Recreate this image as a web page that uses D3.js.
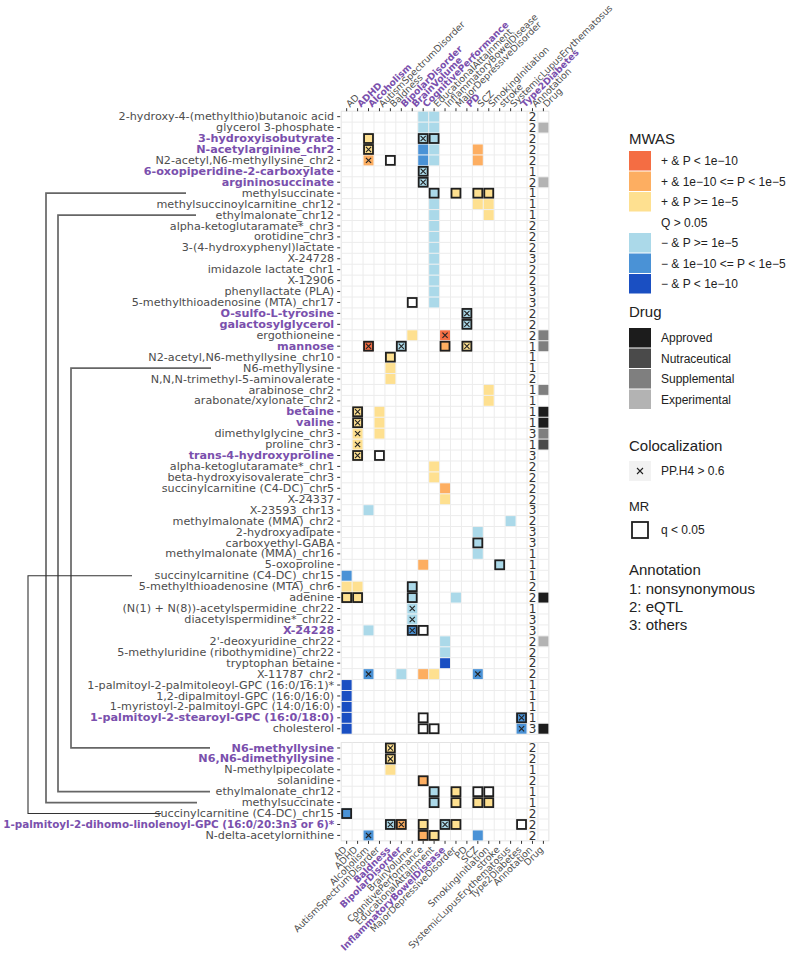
<!DOCTYPE html>
<html>
<head>
<meta charset="utf-8">
<script src="https://cdn.jsdelivr.net/npm/d3@7"></script>
<style>
  body { margin: 0; background: #fff; }
</style>
</head>
<body>
<div id="chart"></div>
<script>
// ---- data ----
const traits = ["AD", "ADHD", "Alcoholism", "AutismSpectrumDisorder", "Baldness", "BipolarDisorder",
  "BrainVolume", "CognitivePerformance", "EducationalAttainment", "InflammatoryBowelDisease",
  "MajorDepressiveDisorder", "PD", "SCZ", "SmokingInitiation", "stroke",
  "SystemicLupusErythematosus", "Type2Diabetes"];
const columns = traits.concat(["Annotation", "Drug"]);
const topBoldTraits = ["ADHD", "Alcoholism", "BipolarDisorder", "BrainVolume", "CognitivePerformance", "PD", "Type2Diabetes"];
const bottomBoldTraits = ["Baldness", "BipolarDisorder", "InflammatoryBowelDisease"];

const metabolitesTop = [
  "2-hydroxy-4-(methylthio)butanoic acid", "glycerol 3-phosphate", "3-hydroxyisobutyrate",
  "N-acetylarginine_chr2", "N2-acetyl,N6-methyllysine_chr2", "6-oxopiperidine-2-carboxylate",
  "argininosuccinate", "methylsuccinate", "methylsuccinoylcarnitine_chr12", "ethylmalonate_chr12",
  "alpha-ketoglutaramate*_chr3", "orotidine_chr3", "3-(4-hydroxyphenyl)lactate", "X-24728",
  "imidazole lactate_chr1", "X-12906", "phenyllactate (PLA)", "5-methylthioadenosine (MTA)_chr17",
  "O-sulfo-L-tyrosine", "galactosylglycerol", "ergothioneine", "mannose",
  "N2-acetyl,N6-methyllysine_chr10", "N6-methyllysine", "N,N,N-trimethyl-5-aminovalerate",
  "arabinose_chr2", "arabonate/xylonate_chr2", "betaine", "valine", "dimethylglycine_chr3",
  "proline_chr3", "trans-4-hydroxyproline", "alpha-ketoglutaramate*_chr1",
  "beta-hydroxyisovalerate_chr3", "succinylcarnitine (C4-DC)_chr5", "X-24337", "X-23593_chr13",
  "methylmalonate (MMA)_chr2", "2-hydroxyadipate", "carboxyethyl-GABA", "methylmalonate (MMA)_chr16",
  "5-oxoproline", "succinylcarnitine (C4-DC)_chr15", "5-methylthioadenosine (MTA)_chr6", "adenine",
  "(N(1) + N(8))-acetylspermidine_chr22", "diacetylspermidine*_chr22", "X-24228",
  "2'-deoxyuridine_chr22", "5-methyluridine (ribothymidine)_chr22", "tryptophan betaine",
  "X-11787_chr2", "1-palmitoyl-2-palmitoleoyl-GPC (16:0/16:1)*", "1,2-dipalmitoyl-GPC (16:0/16:0)",
  "1-myristoyl-2-palmitoyl-GPC (14:0/16:0)", "1-palmitoyl-2-stearoyl-GPC (16:0/18:0)", "cholesterol"];
const boldTop = ["3-hydroxyisobutyrate", "N-acetylarginine_chr2", "6-oxopiperidine-2-carboxylate",
  "argininosuccinate", "O-sulfo-L-tyrosine", "galactosylglycerol", "mannose", "betaine", "valine",
  "trans-4-hydroxyproline", "X-24228", "1-palmitoyl-2-stearoyl-GPC (16:0/18:0)"];
const annotationTop = [2,2,2,2,2,1,2,1,1,1, 2,2,2,3,2,2,3,3, 2,2,2, 1,1,1,2,1,1, 1,1,3,1,3,
  2,2,2,2, 3,2,3,3,1,1,1, 2,2,1,3,3, 2,2,2,2, 1,1,1,1,3];

const metabolitesBottom = ["N6-methyllysine", "N6,N6-dimethyllysine", "N-methylpipecolate", "solanidine",
  "ethylmalonate_chr12", "methylsuccinate", "succinylcarnitine (C4-DC)_chr15",
  "1-palmitoyl-2-dihomo-linolenoyl-GPC (16:0/20:3n3 or 6)*", "N-delta-acetylornithine"];
const boldBottom = ["N6-methyllysine", "N6,N6-dimethyllysine", "1-palmitoyl-2-dihomo-linolenoyl-GPC (16:0/20:3n3 or 6)*"];
const annotationBottom = [2,2,1,2,1,1,2,2,2];

// MWAS level: 3 = + & P<1e-10, 2 = + & 1e-10<=P<1e-5, 1 = + & P>=1e-5, -1/-2/-3 the negative ones
const mwasTop = [
  ["2-hydroxy-4-(methylthio)butanoic acid", "CognitivePerformance", -1],
  ["2-hydroxy-4-(methylthio)butanoic acid", "EducationalAttainment", -1],
  ["glycerol 3-phosphate", "CognitivePerformance", -1],
  ["glycerol 3-phosphate", "EducationalAttainment", -1],
  ["3-hydroxyisobutyrate", "Alcoholism", 1],
  ["3-hydroxyisobutyrate", "CognitivePerformance", -1],
  ["3-hydroxyisobutyrate", "EducationalAttainment", -1],
  ["N-acetylarginine_chr2", "Alcoholism", 1],
  ["N-acetylarginine_chr2", "CognitivePerformance", -2],
  ["N-acetylarginine_chr2", "EducationalAttainment", -1],
  ["N-acetylarginine_chr2", "SCZ", 2],
  ["N2-acetyl,N6-methyllysine_chr2", "Alcoholism", 2],
  ["N2-acetyl,N6-methyllysine_chr2", "CognitivePerformance", -2],
  ["N2-acetyl,N6-methyllysine_chr2", "EducationalAttainment", -1],
  ["N2-acetyl,N6-methyllysine_chr2", "SCZ", 2],
  ["6-oxopiperidine-2-carboxylate", "CognitivePerformance", -1],
  ["argininosuccinate", "CognitivePerformance", -1],
  ["methylsuccinate", "EducationalAttainment", -1],
  ["methylsuccinate", "MajorDepressiveDisorder", 1],
  ["methylsuccinate", "SCZ", 1],
  ["methylsuccinate", "SmokingInitiation", 1],
  ["methylsuccinoylcarnitine_chr12", "EducationalAttainment", -1],
  ["methylsuccinoylcarnitine_chr12", "SCZ", 1],
  ["methylsuccinoylcarnitine_chr12", "SmokingInitiation", 1],
  ["ethylmalonate_chr12", "EducationalAttainment", -1],
  ["ethylmalonate_chr12", "SmokingInitiation", 1],
  ["alpha-ketoglutaramate*_chr3", "EducationalAttainment", -1],
  ["orotidine_chr3", "EducationalAttainment", -1],
  ["3-(4-hydroxyphenyl)lactate", "EducationalAttainment", -1],
  ["X-24728", "EducationalAttainment", -1],
  ["imidazole lactate_chr1", "EducationalAttainment", -1],
  ["X-12906", "EducationalAttainment", -1],
  ["phenyllactate (PLA)", "EducationalAttainment", -1],
  ["5-methylthioadenosine (MTA)_chr17", "EducationalAttainment", -1],
  ["O-sulfo-L-tyrosine", "PD", -1],
  ["galactosylglycerol", "PD", -1],
  ["ergothioneine", "BrainVolume", 1],
  ["ergothioneine", "InflammatoryBowelDisease", 3],
  ["mannose", "Alcoholism", 3],
  ["mannose", "BipolarDisorder", -1],
  ["mannose", "InflammatoryBowelDisease", 2],
  ["mannose", "PD", 1],
  ["N2-acetyl,N6-methyllysine_chr10", "Baldness", 1],
  ["N6-methyllysine", "Baldness", 1],
  ["N,N,N-trimethyl-5-aminovalerate", "Baldness", 1],
  ["arabinose_chr2", "SmokingInitiation", 1],
  ["arabonate/xylonate_chr2", "SmokingInitiation", 1],
  ["betaine", "ADHD", 1],
  ["betaine", "AutismSpectrumDisorder", 1],
  ["valine", "ADHD", 1],
  ["valine", "AutismSpectrumDisorder", 1],
  ["dimethylglycine_chr3", "ADHD", 1],
  ["dimethylglycine_chr3", "AutismSpectrumDisorder", 1],
  ["proline_chr3", "ADHD", 1],
  ["trans-4-hydroxyproline", "ADHD", 1],
  ["alpha-ketoglutaramate*_chr1", "EducationalAttainment", 1],
  ["beta-hydroxyisovalerate_chr3", "EducationalAttainment", 1],
  ["succinylcarnitine (C4-DC)_chr5", "InflammatoryBowelDisease", 2],
  ["X-24337", "InflammatoryBowelDisease", 1],
  ["X-23593_chr13", "Alcoholism", -1],
  ["methylmalonate (MMA)_chr2", "SystemicLupusErythematosus", -1],
  ["2-hydroxyadipate", "SCZ", -1],
  ["carboxyethyl-GABA", "SCZ", -1],
  ["methylmalonate (MMA)_chr16", "SCZ", -1],
  ["5-oxoproline", "CognitivePerformance", 2],
  ["5-oxoproline", "stroke", -1],
  ["succinylcarnitine (C4-DC)_chr15", "AD", -2],
  ["5-methylthioadenosine (MTA)_chr6", "AD", 1],
  ["5-methylthioadenosine (MTA)_chr6", "ADHD", 1],
  ["5-methylthioadenosine (MTA)_chr6", "BrainVolume", -1],
  ["adenine", "AD", 1],
  ["adenine", "ADHD", 1],
  ["adenine", "BrainVolume", -1],
  ["adenine", "MajorDepressiveDisorder", -1],
  ["(N(1) + N(8))-acetylspermidine_chr22", "BrainVolume", -1],
  ["diacetylspermidine*_chr22", "BrainVolume", -1],
  ["X-24228", "Alcoholism", -1],
  ["X-24228", "BrainVolume", -2],
  ["2'-deoxyuridine_chr22", "InflammatoryBowelDisease", -1],
  ["5-methyluridine (ribothymidine)_chr22", "InflammatoryBowelDisease", -1],
  ["tryptophan betaine", "InflammatoryBowelDisease", -3],
  ["X-11787_chr2", "Alcoholism", -2],
  ["X-11787_chr2", "BipolarDisorder", -1],
  ["X-11787_chr2", "CognitivePerformance", 2],
  ["X-11787_chr2", "EducationalAttainment", 1],
  ["X-11787_chr2", "SCZ", -2],
  ["1-palmitoyl-2-palmitoleoyl-GPC (16:0/16:1)*", "AD", -3],
  ["1,2-dipalmitoyl-GPC (16:0/16:0)", "AD", -3],
  ["1-myristoyl-2-palmitoyl-GPC (14:0/16:0)", "AD", -3],
  ["1-palmitoyl-2-stearoyl-GPC (16:0/18:0)", "AD", -3],
  ["1-palmitoyl-2-stearoyl-GPC (16:0/18:0)", "Type2Diabetes", -2],
  ["cholesterol", "AD", -3],
  ["cholesterol", "Type2Diabetes", -2]
];
const mwasBottom = [
  ["N6-methyllysine", "Baldness", 1],
  ["N6,N6-dimethyllysine", "Baldness", 1],
  ["N-methylpipecolate", "Baldness", 1],
  ["solanidine", "CognitivePerformance", 2],
  ["ethylmalonate_chr12", "EducationalAttainment", -1],
  ["ethylmalonate_chr12", "MajorDepressiveDisorder", 1],
  ["methylsuccinate", "EducationalAttainment", -1],
  ["methylsuccinate", "MajorDepressiveDisorder", 1],
  ["methylsuccinate", "SCZ", 1],
  ["methylsuccinate", "SmokingInitiation", 1],
  ["succinylcarnitine (C4-DC)_chr15", "AD", -2],
  ["1-palmitoyl-2-dihomo-linolenoyl-GPC (16:0/20:3n3 or 6)*", "Baldness", -1],
  ["1-palmitoyl-2-dihomo-linolenoyl-GPC (16:0/20:3n3 or 6)*", "BipolarDisorder", 2],
  ["1-palmitoyl-2-dihomo-linolenoyl-GPC (16:0/20:3n3 or 6)*", "CognitivePerformance", 1],
  ["1-palmitoyl-2-dihomo-linolenoyl-GPC (16:0/20:3n3 or 6)*", "InflammatoryBowelDisease", -1],
  ["1-palmitoyl-2-dihomo-linolenoyl-GPC (16:0/20:3n3 or 6)*", "MajorDepressiveDisorder", 1],
  ["N-delta-acetylornithine", "Alcoholism", -2],
  ["N-delta-acetylornithine", "CognitivePerformance", 2],
  ["N-delta-acetylornithine", "EducationalAttainment", 1],
  ["N-delta-acetylornithine", "SCZ", -2]
];

// colocalization PP.H4 > 0.6
const colocTop = [
  ["3-hydroxyisobutyrate", "CognitivePerformance"], ["N-acetylarginine_chr2", "Alcoholism"],
  ["N2-acetyl,N6-methyllysine_chr2", "Alcoholism"], ["6-oxopiperidine-2-carboxylate", "CognitivePerformance"],
  ["argininosuccinate", "CognitivePerformance"], ["O-sulfo-L-tyrosine", "PD"], ["galactosylglycerol", "PD"],
  ["ergothioneine", "InflammatoryBowelDisease"], ["mannose", "Alcoholism"], ["mannose", "BipolarDisorder"],
  ["mannose", "PD"], ["betaine", "ADHD"], ["valine", "ADHD"], ["dimethylglycine_chr3", "ADHD"],
  ["proline_chr3", "ADHD"], ["trans-4-hydroxyproline", "ADHD"],
  ["(N(1) + N(8))-acetylspermidine_chr22", "BrainVolume"], ["diacetylspermidine*_chr22", "BrainVolume"],
  ["X-24228", "BrainVolume"], ["X-11787_chr2", "Alcoholism"], ["X-11787_chr2", "SCZ"],
  ["1-palmitoyl-2-stearoyl-GPC (16:0/18:0)", "Type2Diabetes"], ["cholesterol", "Type2Diabetes"]
];
const colocBottom = [
  ["N6-methyllysine", "Baldness"], ["N6,N6-dimethyllysine", "Baldness"],
  ["1-palmitoyl-2-dihomo-linolenoyl-GPC (16:0/20:3n3 or 6)*", "Baldness"],
  ["1-palmitoyl-2-dihomo-linolenoyl-GPC (16:0/20:3n3 or 6)*", "BipolarDisorder"],
  ["1-palmitoyl-2-dihomo-linolenoyl-GPC (16:0/20:3n3 or 6)*", "InflammatoryBowelDisease"],
  ["N-delta-acetylornithine", "Alcoholism"]
];

// MR q < 0.05
const mrTop = [
  ["3-hydroxyisobutyrate", "Alcoholism"], ["3-hydroxyisobutyrate", "CognitivePerformance"],
  ["3-hydroxyisobutyrate", "EducationalAttainment"], ["N-acetylarginine_chr2", "Alcoholism"],
  ["N2-acetyl,N6-methyllysine_chr2", "Baldness"], ["6-oxopiperidine-2-carboxylate", "CognitivePerformance"],
  ["argininosuccinate", "CognitivePerformance"], ["methylsuccinate", "EducationalAttainment"],
  ["methylsuccinate", "MajorDepressiveDisorder"], ["methylsuccinate", "SCZ"],
  ["methylsuccinate", "SmokingInitiation"], ["5-methylthioadenosine (MTA)_chr17", "BrainVolume"],
  ["O-sulfo-L-tyrosine", "PD"], ["galactosylglycerol", "PD"], ["mannose", "Alcoholism"],
  ["mannose", "BipolarDisorder"], ["mannose", "InflammatoryBowelDisease"], ["mannose", "PD"],
  ["N2-acetyl,N6-methyllysine_chr10", "Baldness"], ["betaine", "ADHD"], ["valine", "ADHD"],
  ["trans-4-hydroxyproline", "ADHD"], ["trans-4-hydroxyproline", "AutismSpectrumDisorder"],
  ["carboxyethyl-GABA", "SCZ"], ["5-oxoproline", "stroke"],
  ["5-methylthioadenosine (MTA)_chr6", "BrainVolume"], ["adenine", "AD"], ["adenine", "ADHD"],
  ["adenine", "BrainVolume"], ["X-24228", "BrainVolume"], ["X-24228", "CognitivePerformance"],
  ["1-palmitoyl-2-stearoyl-GPC (16:0/18:0)", "CognitivePerformance"],
  ["1-palmitoyl-2-stearoyl-GPC (16:0/18:0)", "Type2Diabetes"],
  ["cholesterol", "CognitivePerformance"], ["cholesterol", "EducationalAttainment"]
];
const mrBottom = [
  ["N6-methyllysine", "Baldness"], ["N6,N6-dimethyllysine", "Baldness"], ["solanidine", "CognitivePerformance"],
  ["ethylmalonate_chr12", "EducationalAttainment"], ["ethylmalonate_chr12", "MajorDepressiveDisorder"],
  ["ethylmalonate_chr12", "SCZ"], ["ethylmalonate_chr12", "SmokingInitiation"],
  ["methylsuccinate", "EducationalAttainment"], ["methylsuccinate", "MajorDepressiveDisorder"],
  ["methylsuccinate", "SCZ"], ["methylsuccinate", "SmokingInitiation"],
  ["succinylcarnitine (C4-DC)_chr15", "AD"],
  ["1-palmitoyl-2-dihomo-linolenoyl-GPC (16:0/20:3n3 or 6)*", "Baldness"],
  ["1-palmitoyl-2-dihomo-linolenoyl-GPC (16:0/20:3n3 or 6)*", "BipolarDisorder"],
  ["1-palmitoyl-2-dihomo-linolenoyl-GPC (16:0/20:3n3 or 6)*", "CognitivePerformance"],
  ["1-palmitoyl-2-dihomo-linolenoyl-GPC (16:0/20:3n3 or 6)*", "InflammatoryBowelDisease"],
  ["1-palmitoyl-2-dihomo-linolenoyl-GPC (16:0/20:3n3 or 6)*", "MajorDepressiveDisorder"],
  ["1-palmitoyl-2-dihomo-linolenoyl-GPC (16:0/20:3n3 or 6)*", "Type2Diabetes"],
  ["N-delta-acetylornithine", "CognitivePerformance"], ["N-delta-acetylornithine", "EducationalAttainment"]
];

const drugTop = [
  ["glycerol 3-phosphate", "Experimental"], ["argininosuccinate", "Experimental"],
  ["ergothioneine", "Supplemental"], ["mannose", "Supplemental"], ["arabinose_chr2", "Supplemental"],
  ["betaine", "Approved"], ["valine", "Approved"], ["dimethylglycine_chr3", "Supplemental"],
  ["proline_chr3", "Nutraceutical"], ["adenine", "Approved"], ["2'-deoxyuridine_chr22", "Experimental"],
  ["cholesterol", "Approved"]
];

// metabolites shown in both blocks, joined by the bracket lines on the left
const links = ["methylsuccinate", "ethylmalonate_chr12", "N6-methyllysine", "succinylcarnitine (C4-DC)_chr15"];

const mwasLevels = [3, 2, 1, 0, -1, -2, -3];
const mwasLabels = ["+ & P < 1e\u221210", "+ & 1e\u221210 <= P < 1e\u22125", "+ & P >= 1e\u22125", "Q > 0.05",
  "\u2212 & P >= 1e\u22125", "\u2212 & 1e\u221210 <= P < 1e\u22125", "\u2212 & P < 1e\u221210"];
const drugLevels = ["Approved", "Nutraceutical", "Supplemental", "Experimental"];
const annotationLabels = ["1: nonsynonymous", "2: eQTL", "3: others"];

// ---- styles ----
const mwasColor = d3.scaleOrdinal()
  .domain(mwasLevels)
  .range(["#f46d43", "#fdae61", "#fee090", "#ffffff", "#abd9e9", "#4a92d6", "#1a4fc2"]);
const drugColor = d3.scaleOrdinal()
  .domain(drugLevels)
  .range(["#1c1c1c", "#4a4a4a", "#7f7f7f", "#b3b3b3"]);

const width = 790, height = 960;
const cell = 10.93;
const gridLeft = 341.2;
const topStart = 111.2;
const bottomStart = 742.5;
const labelFont = "'DejaVu Sans', sans-serif";
const legendFont = "'Liberation Sans', Arial, sans-serif";
const purple = "#7a50ad";
const grey = "#4d4d4d";

const svg = d3.select("#chart").append("svg")
  .attr("width", width).attr("height", height)
  .style("font-family", labelFont);

const x = d3.scaleBand().domain(columns).range([gridLeft, gridLeft + columns.length * cell]);
const yTop = d3.scaleBand().domain(metabolitesTop).range([topStart, topStart + metabolitesTop.length * cell]);
const yBottom = d3.scaleBand().domain(metabolitesBottom).range([bottomStart, bottomStart + metabolitesBottom.length * cell]);

function drawBlock(y, names, bold, mwas, coloc, mr, annotation, drug) {
  const g = svg.append("g");
  const [y0, y1] = y.range();
  const [x0, x1] = x.range();

  g.append("rect").attr("x", x0).attr("y", y0).attr("width", x1 - x0).attr("height", y1 - y0)
    .attr("fill", "#fff").attr("stroke", "#e3e3e3");

  // light grid along cell borders
  g.selectAll(".vl").data(d3.range(1, columns.length)).join("line")
    .attr("x1", i => x0 + i * x.step()).attr("x2", i => x0 + i * x.step())
    .attr("y1", y0).attr("y2", y1).attr("stroke", "#ececec");
  g.selectAll(".hl").data(d3.range(1, names.length)).join("line")
    .attr("y1", i => y0 + i * y.step()).attr("y2", i => y0 + i * y.step())
    .attr("x1", x0).attr("x2", x1).attr("stroke", "#ececec");

  g.selectAll(".tile").data(mwas).join("rect")
    .attr("x", d => x(d[1]) + 0.5).attr("y", d => y(d[0]) + 0.5)
    .attr("width", x.bandwidth() - 1).attr("height", y.bandwidth() - 1)
    .attr("fill", d => mwasColor(d[2]));

  g.selectAll(".drug").data(drug).join("rect")
    .attr("x", x("Drug") + 0.5).attr("y", d => y(d[0]) + 0.5)
    .attr("width", x.bandwidth() - 1).attr("height", y.bandwidth() - 1)
    .attr("fill", d => drugColor(d[1]));

  g.selectAll(".mr").data(mr).join("rect")
    .attr("x", d => x(d[1]) + 1).attr("y", d => y(d[0]) + 1)
    .attr("width", x.bandwidth() - 2).attr("height", y.bandwidth() - 2)
    .attr("fill", "none").attr("stroke", "#1f1f1f").attr("stroke-width", 1.8);

  const s = 2.6;
  g.selectAll(".coloc").data(coloc).join("path")
    .attr("d", d => {
      const cx = x(d[1]) + x.bandwidth() / 2, cy = y(d[0]) + y.bandwidth() / 2;
      return `M${cx - s},${cy - s}L${cx + s},${cy + s}M${cx - s},${cy + s}L${cx + s},${cy - s}`;
    })
    .attr("stroke", "#222").attr("stroke-width", 1.1);

  g.selectAll(".ann").data(names).join("text")
    .attr("x", x("Annotation") + x.bandwidth() / 2)
    .attr("y", d => y(d) + y.bandwidth() / 2)
    .attr("dy", "0.36em").attr("text-anchor", "middle")
    .attr("font-size", 12).attr("fill", "#333")
    .text((d, i) => annotation[i]);

  // row axis
  const axis = d3.axisLeft(y).tickSize(3).tickPadding(3);
  const ga = g.append("g").attr("transform", `translate(${x0 - 1},0)`).call(axis);
  ga.select(".domain").remove();
  ga.selectAll(".tick line").attr("stroke", "#333");
  ga.selectAll(".tick text")
    .attr("font-size", 11.2).attr("font-family", labelFont)
    .attr("fill", d => bold.includes(d) ? purple : grey)
    .attr("font-weight", d => bold.includes(d) ? "bold" : "normal")
    .each(function () {
      // squeeze a label that would run past the left edge
      const room = x0 - 10;
      const len = this.getComputedTextLength();
      if (len > room) {
        d3.select(this).attr("x", 0)
          .attr("transform", `translate(-6,0) scale(${room / len},1)`);
      }
    });
}

drawBlock(yTop, metabolitesTop, boldTop, mwasTop, colocTop, mrTop, annotationTop, drugTop);
drawBlock(yBottom, metabolitesBottom, boldBottom, mwasBottom, colocBottom, mrBottom, annotationBottom, []);

// column labels, top
const gTop = svg.append("g").attr("transform", `translate(0,${topStart})`)
  .call(d3.axisTop(x).tickSize(3).tickPadding(2));
gTop.select(".domain").remove();
gTop.selectAll(".tick line").attr("stroke", "#333");
gTop.selectAll(".tick text")
  .attr("text-anchor", "start")
  .attr("transform", "translate(0,-4) rotate(-45)")
  .attr("dy", "0.3em").attr("x", 2).attr("y", 0)
  .attr("font-size", 9.3).attr("font-family", labelFont)
  .attr("fill", d => topBoldTraits.includes(d) ? purple : grey)
  .attr("font-weight", d => topBoldTraits.includes(d) ? "bold" : "normal");

// column labels, bottom
const bottomEnd = yBottom.range()[1];
const gBot = svg.append("g").attr("transform", `translate(0,${bottomEnd})`)
  .call(d3.axisBottom(x).tickSize(3).tickPadding(2));
gBot.select(".domain").remove();
gBot.selectAll(".tick line").attr("stroke", "#333");
gBot.selectAll(".tick text")
  .attr("text-anchor", "end")
  .attr("transform", "translate(0,6) rotate(-45)")
  .attr("dy", "0.3em").attr("x", -2).attr("y", 0)
  .attr("font-size", 9.3).attr("font-family", labelFont)
  .attr("fill", d => bottomBoldTraits.includes(d) ? purple : grey)
  .attr("font-weight", d => bottomBoldTraits.includes(d) ? "bold" : "normal");

// bracket lines joining repeated metabolites
const linkX = [46, 58, 71, 28];
const linkTopEnd = [186, 196, 211, 132];
const linkBottomEnd = [197, 210, 210, 161];
const gLinks = svg.append("g").attr("fill", "none");
links.forEach((name, i) => {
  const ya = yTop(name) + yTop.bandwidth() / 2;
  const yb = yBottom(name) + yBottom.bandwidth() / 2;
  gLinks.append("path")
    .attr("d", `M${linkTopEnd[i]},${ya}H${linkX[i]}V${yb}H${linkBottomEnd[i]}`)
    .attr("stroke", i === 3 ? "#333" : "#666")
    .attr("stroke-width", i === 3 ? 1.1 : 1.7);
});

// ---- legend ----
const lg = svg.append("g").attr("transform", "translate(629,0)").style("font-family", legendFont);
const keyW = 22, keyH = 20.5;

const mwasY = 151;
lg.append("text").attr("x", 0).attr("y", mwasY - 7).attr("font-size", 15).attr("fill", "#222").text("MWAS");
lg.selectAll(".mk").data(mwasLevels).join("rect")
  .attr("x", 0).attr("y", (d, i) => mwasY + i * keyH)
  .attr("width", keyW).attr("height", keyH - 1)
  .attr("fill", d => mwasColor(d));
lg.selectAll(".mt").data(mwasLabels).join("text")
  .attr("x", keyW + 10).attr("y", (d, i) => mwasY + i * keyH + keyH / 2)
  .attr("dy", "0.35em").attr("font-size", 12).attr("fill", "#222").text(d => d);

const drugY = 328;
lg.append("text").attr("x", 0).attr("y", drugY - 11).attr("font-size", 15).attr("fill", "#222").text("Drug");
lg.selectAll(".dk").data(drugLevels).join("rect")
  .attr("x", 0).attr("y", (d, i) => drugY + i * keyH)
  .attr("width", keyW).attr("height", keyH - 1)
  .attr("fill", d => drugColor(d));
lg.selectAll(".dt").data(drugLevels).join("text")
  .attr("x", keyW + 10).attr("y", (d, i) => drugY + i * keyH + keyH / 2)
  .attr("dy", "0.35em").attr("font-size", 12).attr("fill", "#222").text(d => d);

lg.append("text").attr("x", 0).attr("y", 451).attr("font-size", 15).attr("fill", "#222").text("Colocalization");
lg.append("rect").attr("x", 0).attr("y", 461).attr("width", keyW).attr("height", 20).attr("fill", "#f2f2f2");
lg.append("path").attr("d", "M8,468L14,474M8,474L14,468").attr("stroke", "#222").attr("stroke-width", 1.1);
lg.append("text").attr("x", keyW + 10).attr("y", 471).attr("dy", "0.35em")
  .attr("font-size", 12).attr("fill", "#222").text("PP.H4 > 0.6");

lg.append("text").attr("x", 0).attr("y", 511).attr("font-size", 13).attr("fill", "#222").text("MR");
lg.append("rect").attr("x", 3).attr("y", 522).attr("width", 16).attr("height", 16)
  .attr("fill", "none").attr("stroke", "#1f1f1f").attr("stroke-width", 1.8);
lg.append("text").attr("x", keyW + 10).attr("y", 530).attr("dy", "0.35em")
  .attr("font-size", 12).attr("fill", "#222").text("q < 0.05");

lg.append("text").attr("x", 0).attr("y", 575).attr("font-size", 15).attr("fill", "#222").text("Annotation");
lg.selectAll(".at").data(annotationLabels).join("text")
  .attr("x", 0).attr("y", (d, i) => 594 + i * 18)
  .attr("font-size", 15).attr("fill", "#222").text(d => d);
</script>
</body>
</html>
